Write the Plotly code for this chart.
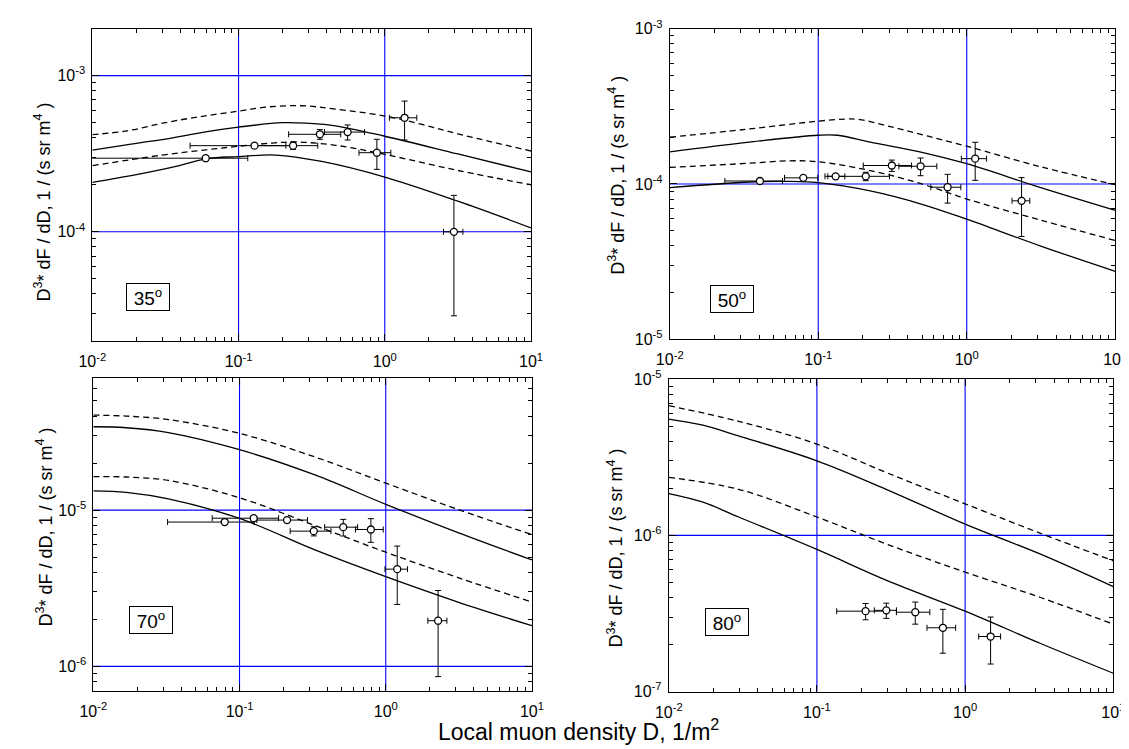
import plotly.graph_objects as go

W, H = 1129, 749
FONT = "Liberation Sans, Arial, sans-serif"

# ---------------- tick labels ----------------
x_tickvals = [0.01, 0.1, 1, 10]
x_ticktext = ["10<sup>-2</sup>", "10<sup>-1</sup>", "10<sup>0</sup>", "10<sup>1</sup>"]

# ---------------- panel 35 deg ----------------
p35_ud_x = [0.01, 0.0173, 0.0316, 0.058, 0.1, 0.155, 0.27, 0.46, 1, 1.83, 3.16, 10]
p35_ud_y = [4.19e-4, 4.43e-4, 5.0e-4, 5.51e-4, 5.92e-4, 6.29e-4, 6.41e-4, 6.11e-4, 5.51e-4, 4.85e-4, 4.24e-4, 3.29e-4]
p35_us_x = [0.01, 0.0215, 0.0316, 0.058, 0.1, 0.2, 0.3, 0.46, 1, 3.16, 10]
p35_us_y = [3.33e-4, 3.72e-4, 3.92e-4, 4.35e-4, 4.68e-4, 5.0e-4, 4.95e-4, 4.77e-4, 4.09e-4, 3.15e-4, 2.42e-4]
p35_ld_x = [0.01, 0.03, 0.06, 0.1, 0.17, 0.24, 0.46, 1, 3.16, 10]
p35_ld_y = [2.65e-4, 3.10e-4, 3.35e-4, 3.53e-4, 3.70e-4, 3.76e-4, 3.58e-4, 3.13e-4, 2.47e-4, 2.0e-4]
p35_ls_x = [0.01, 0.02, 0.0373, 0.06, 0.1, 0.18, 0.37, 1, 3.16, 10]
p35_ls_y = [2.07e-4, 2.32e-4, 2.62e-4, 2.93e-4, 3.03e-4, 3.10e-4, 2.82e-4, 2.24e-4, 1.57e-4, 1.06e-4]
p35_d_x = [0.0596, 0.1286, 0.236, 0.360, 0.557, 0.883, 1.366, 2.97]
p35_d_y = [2.96e-4, 3.56e-4, 3.56e-4, 4.21e-4, 4.35e-4, 3.21e-4, 5.37e-4, 1.0e-4]
p35_d_xerr = [0.056, 0.082, 0.112, 0.14, 0.17, 0.217, 0.29, 0.45]
p35_d_yerr = [0.0, 0.0, 0.19e-4, 0.3e-4, 0.48e-4, 0.7e-4, 1.5e-4, 0.71e-4]

# ---------------- panel 50 deg ----------------
p50_ud_x = [0.01, 0.0327, 0.1, 0.152, 0.19, 0.295, 0.51, 1, 3.15, 10]
p50_ud_y = [2.0e-4, 2.25e-4, 2.54e-4, 2.62e-4, 2.60e-4, 2.36e-4, 2.07e-4, 1.75e-4, 1.29e-4, 9.9e-5]
p50_us_x = [0.01, 0.0343, 0.1, 0.135, 0.224, 0.5, 1, 3.15, 10]
p50_us_y = [1.61e-4, 1.86e-4, 2.06e-4, 2.06e-4, 1.86e-4, 1.6e-4, 1.35e-4, 9.47e-5, 6.76e-5]
p50_ld_x = [0.01, 0.0343, 0.063, 0.1, 0.224, 0.5, 1, 3.15, 10]
p50_ld_y = [1.28e-4, 1.36e-4, 1.41e-4, 1.39e-4, 1.22e-4, 1.0e-4, 8.0e-5, 5.85e-5, 4.32e-5]
p50_ls_x = [0.01, 0.0343, 0.063, 0.1, 0.224, 0.5, 1, 3.15, 10]
p50_ls_y = [9.47e-5, 1.03e-4, 1.04e-4, 1.02e-4, 9.02e-5, 7.4e-5, 5.93e-5, 3.98e-5, 2.74e-5]
p50_d_x = [0.0405, 0.0793, 0.131, 0.209, 0.313, 0.489, 0.743, 1.14, 2.34]
p50_d_y = [1.045e-4, 1.095e-4, 1.12e-4, 1.12e-4, 1.315e-4, 1.30e-4, 9.53e-5, 1.456e-4, 7.79e-5]
p50_d_xerr = [0.017, 0.02, 0.02, 0.093, 0.112, 0.14, 0.17, 0.22, 0.32]
p50_d_yerr = [0.0, 0.0, 0.0, 0.07e-4, 0.11e-4, 0.17e-4, 0.2e-4, 0.4e-4, 0.32e-4]

# ---------------- panel 70 deg ----------------
p70_ud_x = [0.01, 0.0168, 0.0326, 0.1, 0.328, 1, 3.12, 10]
p70_ud_y = [4.06e-5, 4.0e-5, 3.80e-5, 3.10e-5, 2.19e-5, 1.49e-5, 1.01e-5, 6.97e-6]
p70_us_x = [0.01, 0.0168, 0.0326, 0.1, 0.328, 1, 3.12, 10]
p70_us_y = [3.42e-5, 3.37e-5, 3.14e-5, 2.44e-5, 1.68e-5, 1.09e-5, 7.18e-6, 4.80e-6]
p70_ld_x = [0.01, 0.0168, 0.0326, 0.1, 0.328, 1, 3.12, 10]
p70_ld_y = [1.64e-5, 1.63e-5, 1.55e-5, 1.20e-5, 7.97e-6, 5.38e-6, 3.70e-6, 2.58e-6]
p70_ls_x = [0.01, 0.0168, 0.0326, 0.1, 0.328, 1, 3.12, 10]
p70_ls_y = [1.33e-5, 1.30e-5, 1.18e-5, 8.85e-6, 5.56e-6, 3.75e-6, 2.58e-6, 1.82e-6]
p70_d_x = [0.0792, 0.125, 0.2113, 0.322, 0.512, 0.791, 1.198, 2.28]
p70_d_y = [8.39e-6, 8.88e-6, 8.64e-6, 7.34e-6, 7.78e-6, 7.52e-6, 4.19e-6, 1.96e-6]
p70_d_xerr = [0.047, 0.06, 0.08, 0.1, 0.13, 0.17, 0.21, 0.34]
p70_d_yerr = [0.0, 0.0, 0.0, 0.5e-6, 0.95e-6, 1.3e-6, 1.7e-6, 1.1e-6]

# ---------------- panel 80 deg ----------------
p80_ud_x = [0.01, 0.0296, 0.1, 0.301, 1, 3.23, 10]
p80_ud_y = [6.76e-6, 5.37e-6, 3.84e-6, 2.50e-6, 1.59e-6, 1.03e-6, 6.87e-7]
p80_us_x = [0.01, 0.017, 0.0296, 0.1, 0.301, 1, 3.23, 10]
p80_us_y = [5.55e-6, 5.07e-6, 4.33e-6, 3.0e-6, 1.95e-6, 1.18e-6, 7.57e-7, 4.69e-7]
p80_ld_x = [0.01, 0.0296, 0.1, 0.301, 1, 3.23, 10]
p80_ld_y = [2.35e-6, 1.97e-6, 1.31e-6, 8.73e-7, 5.81e-7, 4.0e-7, 2.70e-7]
p80_ls_x = [0.01, 0.017, 0.0296, 0.1, 0.301, 1, 3.23, 10]
p80_ls_y = [1.85e-6, 1.63e-6, 1.31e-6, 8.12e-7, 5.11e-7, 3.27e-7, 2.03e-7, 1.31e-7]
p80_d_x = [0.213, 0.294, 0.461, 0.708, 1.486]
p80_d_y = [3.27e-7, 3.31e-7, 3.22e-7, 2.56e-7, 2.25e-7]
p80_d_xerr = [0.077, 0.05, 0.117, 0.155, 0.25]
p80_d_yerr = [0.39e-7, 0.37e-7, 0.52e-7, 0.8e-7, 0.75e-7]

panel_labels = ["35<sup>o</sup>", "50<sup>o</sup>", "70<sup>o</sup>", "80<sup>o</sup>"]
y_title = "D<sup>3</sup>* dF / dD, 1 / (s sr m<sup>4</sup> )"
x_title = "Local muon density D, 1/m<sup>2</sup>"

panels = [
    dict(curves=[(p35_ud_x, p35_ud_y, True), (p35_us_x, p35_us_y, False),
                 (p35_ld_x, p35_ld_y, True), (p35_ls_x, p35_ls_y, False)],
         d=(p35_d_x, p35_d_y, p35_d_xerr, p35_d_yerr),
         yrange=[-4.7, -2.7], ytv=[1e-4, 1e-3], ytt=["10<sup>-4</sup>", "10<sup>-3</sup>"]),
    dict(curves=[(p50_ud_x, p50_ud_y, True), (p50_us_x, p50_us_y, False),
                 (p50_ld_x, p50_ld_y, True), (p50_ls_x, p50_ls_y, False)],
         d=(p50_d_x, p50_d_y, p50_d_xerr, p50_d_yerr),
         yrange=[-5, -3], ytv=[1e-5, 1e-4, 1e-3], ytt=["10<sup>-5</sup>", "10<sup>-4</sup>", "10<sup>-3</sup>"]),
    dict(curves=[(p70_ud_x, p70_ud_y, True), (p70_us_x, p70_us_y, False),
                 (p70_ld_x, p70_ld_y, True), (p70_ls_x, p70_ls_y, False)],
         d=(p70_d_x, p70_d_y, p70_d_xerr, p70_d_yerr),
         yrange=[-6.155, -4.155], ytv=[1e-6, 1e-5], ytt=["10<sup>-6</sup>", "10<sup>-5</sup>"]),
    dict(curves=[(p80_ud_x, p80_ud_y, True), (p80_us_x, p80_us_y, False),
                 (p80_ld_x, p80_ld_y, True), (p80_ls_x, p80_ls_y, False)],
         d=(p80_d_x, p80_d_y, p80_d_xerr, p80_d_yerr),
         yrange=[-7, -5], ytv=[1e-7, 1e-6, 1e-5], ytt=["10<sup>-7</sup>", "10<sup>-6</sup>", "10<sup>-5</sup>"]),
]

# layout geometry (pixels)
xdom_px = [(72, 521), (663, 1119), (73, 522), (662, 1117)]
ydom_px = [(10, 331), (10, 329), (369, 690), (370, 691)]
ytitle_px = [(22, 188), (609, 160), (23, 522), (607, 544)]
box_px = [(128.6, 286), (727, 287.5), (132, 618), (721.5, 619.7)]
XRANGE = [-2, 1]
GRID_BLUE = "rgb(0,0,255)"

minor_all = [m * 10.0 ** e for e in range(-8, 1) for m in range(2, 10)]

fig = go.Figure()
layout = dict(width=W, height=H, margin=dict(l=0, r=0, t=0, b=0),
              paper_bgcolor="white", plot_bgcolor="white", showlegend=False,
              font=dict(family=FONT, color="black"))
annotations = []

for i, p in enumerate(panels):
    n = "" if i == 0 else str(i + 1)
    xa, ya = "x" + n, "y" + n
    ylo, yhi = 10 ** p["yrange"][0], 10 ** p["yrange"][1]
    xlo, xhi = 10 ** XRANGE[0], 10 ** XRANGE[1]
    # decade grid lines built from the tick arrays (interior decades only)
    gx, gy = [], []
    for v in x_tickvals:
        if xlo < v < xhi:
            gx += [v, v, None]
            gy += [ylo, yhi, None]
    for v in p["ytv"]:
        if ylo * 1.0001 < v < yhi * 0.9999:
            gx += [xlo, xhi, None]
            gy += [v, v, None]
    fig.add_trace(go.Scatter(x=gx, y=gy, xaxis=xa, yaxis=ya, mode="lines",
                             line=dict(color=GRID_BLUE, width=1.1), hoverinfo="skip"))
    for cx, cy, dashed in p["curves"]:
        fig.add_trace(go.Scatter(x=cx, y=cy, xaxis=xa, yaxis=ya, mode="lines",
                                 line=dict(color="black", width=1.3, shape="spline", smoothing=1.0,
                                           dash="6px,4px" if dashed else "solid"),
                                 hoverinfo="skip"))
    dx, dy, ex, ey = p["d"]
    fig.add_trace(go.Scatter(x=dx, y=dy, xaxis=xa, yaxis=ya, mode="markers",
                             marker=dict(symbol="circle", size=7, color="white",
                                         line=dict(color="black", width=1.3)),
                             error_x=dict(type="data", array=ex, color="black", thickness=1, width=3),
                             error_y=dict(type="data", array=ey, color="black", thickness=1, width=3)))
    x0, x1 = xdom_px[i]
    y0, y1 = ydom_px[i]
    common = dict(
        type="log", showline=True, linecolor="black", linewidth=1, mirror="ticks",
        ticks="inside", ticklen=7, tickwidth=1, tickcolor="black", tickmode="array",
        showgrid=False, zeroline=False,
        minor=dict(ticks="inside", ticklen=4, tickcolor="black", tickwidth=1,
                   tickmode="array", tickvals=minor_all, showgrid=False),
        tickfont=dict(family=FONT, size=16, color="black"))
    layout["xaxis" + n] = dict(common, range=XRANGE, domain=[x0 / W, x1 / W], anchor=ya,
                               tickvals=x_tickvals, ticktext=x_ticktext, ticklabelstandoff=6)
    layout["yaxis" + n] = dict(common, range=p["yrange"], domain=[1 - y1 / H, 1 - y0 / H], anchor=xa,
                               tickvals=p["ytv"], ticktext=p["ytt"], ticklabelstandoff=3)
    tx, ty = ytitle_px[i]
    annotations.append(dict(text=y_title, x=tx / W, y=1 - ty / H, xref="paper", yref="paper",
                            textangle=-90, showarrow=False, xanchor="center", yanchor="middle",
                            font=dict(family=FONT, size=18, color="black")))
    bx, by = box_px[i]
    annotations.append(dict(text=panel_labels[i], x=bx / W, y=1 - by / H, xref="paper", yref="paper",
                            showarrow=False, xanchor="center", yanchor="middle",
                            width=40, height=24, bordercolor="black", borderwidth=1, borderpad=1,
                            bgcolor="white",
                            font=dict(family=FONT, size=19, color="black")))

annotations.append(dict(text=x_title, x=570 / W, y=1 - 730 / H, xref="paper", yref="paper",
                        showarrow=False, xanchor="center", yanchor="middle",
                        font=dict(family=FONT, size=23, color="black")))
layout["annotations"] = annotations
fig.update_layout(**layout)
fig.write_html("out.html")
